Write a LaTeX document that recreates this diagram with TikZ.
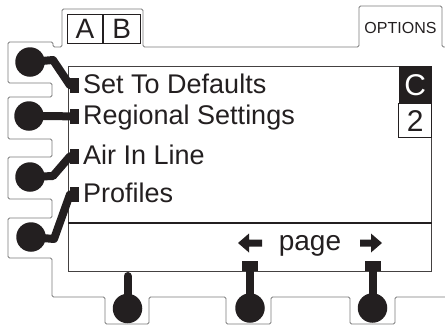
\documentclass[tikz,border=0pt]{standalone}
\usepackage{fontspec}
\setmainfont{Liberation Sans}
\usetikzlibrary{positioning}

\definecolor{ink}{HTML}{231F20}
\definecolor{bezel}{HTML}{7A7A7A}

\tikzset{
    lbl/.style={anchor=base west, inner sep=0pt, text=ink, font=\fontsize{27}{27}\selectfont},
    marker/.style={fill=ink, inner sep=0pt, minimum width=9pt, minimum height=15pt},
    knob/.style={circle, fill=ink, inner sep=0pt, minimum size=29.5pt},
    stem/.style={draw=ink, line width=8pt, line cap=round, line join=round},
    softkey/.style={fill=ink, inner sep=0pt, minimum width=16pt, minimum height=10pt},
    tabbox/.style={draw=ink, line width=0.8pt, inner sep=0pt, minimum height=29pt, text=ink, font=\fontsize{28}{28}\selectfont},
}

\begin{document}
\begin{tikzpicture}[x=1pt, y=-1pt]
    \useasboundingbox (0,0) rectangle (445,325);

    % bezel outline
    \draw[bezel, line width=0.9pt, rounded corners=1.5pt]
        (445,47) -- (442,47) -- (442,6) -- (359,6) -- (359,47) -- (143,47) -- (143,9) -- (62,9) -- (62,47)
        -- (53,47) -- (53,42) -- (8,42) -- (8,83) -- (52,83) -- (52,97) -- (8,97) -- (8,139) -- (52,139)
        -- (52,157) -- (8,157) -- (8,199) -- (52,199) -- (52,218) -- (8,218) -- (8,258) -- (52,258)
        -- (52,297) -- (105,297) -- (105,324) -- (149,324) -- (149,297) -- (226,297) -- (226,324)
        -- (271,324) -- (271,297) -- (350,297) -- (350,324) -- (395,324) -- (395,297) -- (445,297);

    % tabs on top
    \node[tabbox, minimum width=35pt, anchor=north west] (tabA) at (67,14) {A};
    \node[tabbox, minimum width=37pt, right=0pt of tabA] (tabB) {B};
    \node[text=ink, font=\fontsize{16}{16}\selectfont] (opts) at (400.5,28) {OPTIONS};

    % screen
    \node[draw=ink!85, line width=1pt, inner sep=0pt, minimum width=363pt, minimum height=205pt, anchor=north west] (screen) at (68,66) {};
    \draw[ink, line width=2.5pt] (screen.west |- 0,223) -- (screen.east |- 0,223);

    \node[fill=ink, text=white, inner sep=0pt, minimum width=33pt, minimum height=37pt, anchor=north east,
          font=\fontsize{30}{30}\selectfont] (cbox) at (screen.north east) {C};
    \node[draw=ink, line width=0.8pt, text=ink, inner sep=0pt, minimum width=33pt, minimum height=34pt,
          below=0pt of cbox, font=\fontsize{30}{30}\selectfont] (pgnum) {2};

    % menu rows
    \foreach \y/\t [count=\i] in {93/Set To Defaults, 124/Regional Settings, 164/Air In Line, 202/Profiles}
    {
        \node[marker, anchor=south west] (mk\i) at (70,\y) {};
        \node[lbl] (row\i) at (83,\y) {\t};
    }

    % left keys
    \node[knob] (lk1) at (30,62) {};
    \node[knob] (lk2) at (29,116) {};
    \node[knob] (lk3) at (30,177) {};
    \node[knob] (lk4) at (31,237) {};
    \coordinate (bend1) at (53,60);
    \coordinate (bend3) at (53,176);
    \coordinate (bend4) at (54,239);
    \draw[stem] (lk1.center) -- (bend1) -- (mk1.west);
    \draw[stem] (lk2.center) -- (mk2.west);
    \draw[stem] (lk3.center) -- (bend3) -- (mk3.west);
    \draw[stem] (lk4.center) -- (bend4) -- (mk4.west);

    % page bar
    \node[text=ink, font=\fontsize{28}{28}\selectfont, anchor=base] (pagelbl) at (310,250) {page};
    \fill[ink] (238,243) -- (249,233.5) -- (249,239.5) -- (262,239.5) -- (262,246.5) -- (249,246.5) -- (249,252.5) -- cycle;
    \fill[ink] (382,243) -- (371,233.5) -- (371,239.5) -- (360,239.5) -- (360,246.5) -- (371,246.5) -- (371,252.5) -- cycle;

    % bottom keys
    \node[softkey, anchor=south] (sk2) at (250,271) {};
    \node[softkey, anchor=south] (sk3) at (372.5,271) {};
    \node[knob] (bk1) at (127.5,308.5) {};
    \node[knob] (bk2) at (250,308) {};
    \node[knob] (bk3) at (372.5,308) {};
    \coordinate (bk1top) at (127.5,276);
    \draw[stem] (bk1.center) -- (bk1top);
    \draw[stem] (bk2.center) -- (sk2.south);
    \draw[stem] (bk3.center) -- (sk3.south);
\end{tikzpicture}
\end{document}
